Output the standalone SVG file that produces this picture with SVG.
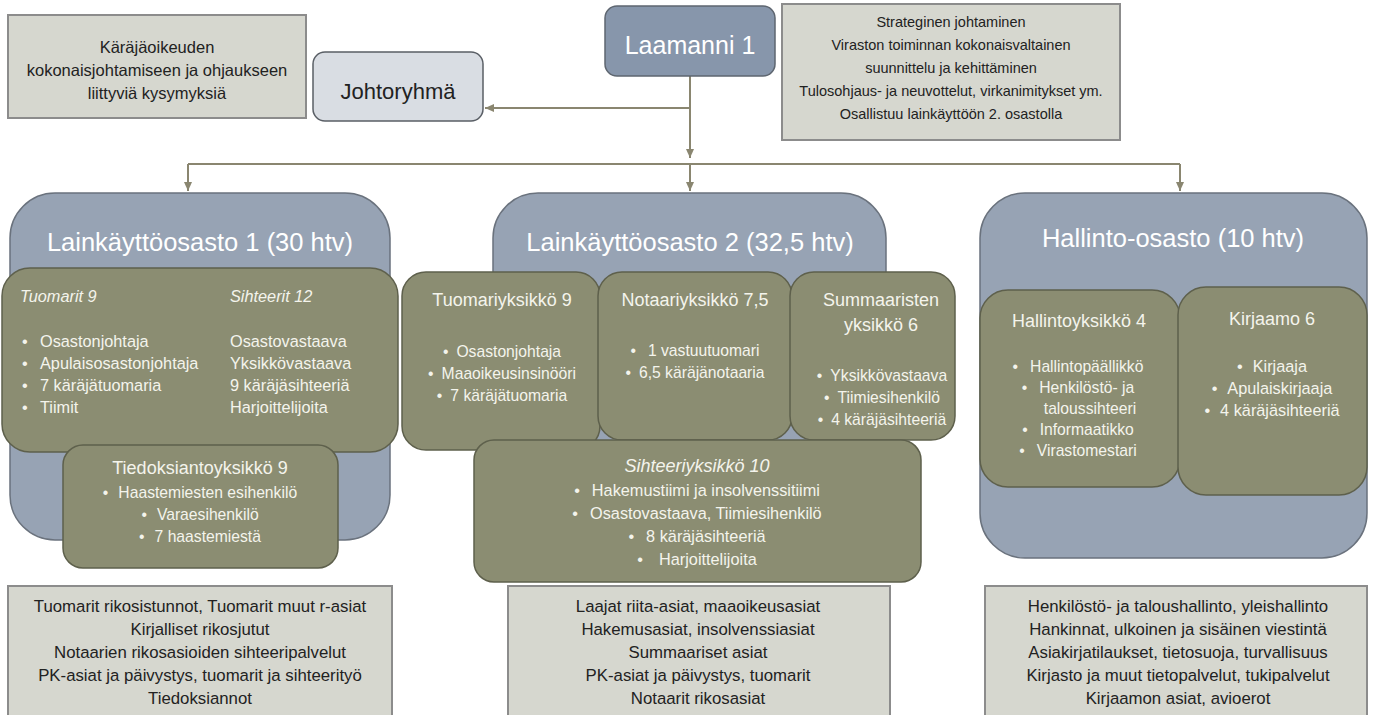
<svg xmlns="http://www.w3.org/2000/svg" width="1377" height="715" viewBox="0 0 1377 715">
<defs>
<marker id="arr" markerWidth="10" markerHeight="10" refX="9" refY="5" orient="auto" markerUnits="userSpaceOnUse">
<path d="M0,1 L9,5 L0,9 Z" fill="#8a8670"/>
</marker>
<style>
text{font-family:"Liberation Sans",Arial,sans-serif}
.note{fill:#d6d7cf;stroke:#8c8c8c;stroke-width:2}
.nt{font-size:16.8px;fill:#222;text-anchor:middle}
.nt2{font-size:14.5px;fill:#222;text-anchor:middle}
.nt3{font-size:16.5px;fill:#222;text-anchor:middle}
.dept{fill:#97a3b4;stroke:#6a727d;stroke-width:1.5}
.dt{font-size:25.5px;fill:#fff;text-anchor:middle}
.unit{fill:#8b8d72;stroke:#5e604c;stroke-width:1.5}
.ut{font-size:16.3px;fill:#f4f4ec}
.tt{font-size:18px;fill:#f4f4ec;text-anchor:middle}
.b{font-size:15.7px;fill:#f4f4ec;text-anchor:middle}
.c{text-anchor:middle}
.it{font-style:italic}
.con{fill:none;stroke:#8a8670;stroke-width:2}
</style>
</defs>
<rect width="1377" height="715" fill="#fff"/>

<g id="connectors">
<path class="con" d="M690,76 V158" marker-end="url(#arr)"/>
<path class="con" d="M690,108 H485" marker-end="url(#arr)"/>
<path class="con" d="M188,164 H1180"/>
<path class="con" d="M188,164 V191" marker-end="url(#arr)"/>
<path class="con" d="M690,164 V191" marker-end="url(#arr)"/>
<path class="con" d="M1180,164 V191" marker-end="url(#arr)"/>
</g>

<g id="note-left">
<rect class="note" x="8" y="15" width="298" height="103"/>
<text class="nt3" x="157" y="53">Käräjäoikeuden</text>
<text class="nt3" x="157" y="76">kokonaisjohtamiseen ja ohjaukseen</text>
<text class="nt3" x="157" y="99">liittyviä kysymyksiä</text>
</g>

<g id="johtoryhma">
<rect x="313" y="52" width="170" height="69" rx="12" fill="#d9dde3" stroke="#5a5f66" stroke-width="1.5"/>
<text x="398" y="99" font-size="22" fill="#222" text-anchor="middle">Johtoryhmä</text>
</g>

<g id="laamanni">
<rect x="605" y="6" width="170" height="70" rx="12" fill="#8796ab" stroke="#5e6670" stroke-width="1.5"/>
<text x="690" y="54" font-size="25" fill="#fff" text-anchor="middle">Laamanni 1</text>
</g>

<g id="note-right">
<rect class="note" x="782" y="4" width="338" height="136"/>
<text class="nt2" x="951" y="27">Strateginen johtaminen</text>
<text class="nt2" x="951" y="50">Viraston toiminnan kokonaisvaltainen</text>
<text class="nt2" x="951" y="73">suunnittelu ja kehittäminen</text>
<text class="nt2" x="951" y="96">Tulosohjaus- ja neuvottelut, virkanimitykset ym.</text>
<text class="nt2" x="951" y="119">Osallistuu lainkäyttöön 2. osastolla</text>
</g>

<g id="dept1">
<rect class="dept" x="10" y="193" width="380" height="347" rx="45"/>
<text class="dt" x="200" y="251">Lainkäyttöosasto 1 (30 htv)</text>
</g>
<g id="dept1-main">
<rect class="unit" x="2" y="268" width="396" height="184" rx="28"/>
<text class="ut it" x="20" y="302">Tuomarit 9</text>
<text class="ut it" x="230" y="302">Sihteerit 12</text>
<text class="ut" x="22" y="347">•</text><text class="ut" x="40" y="347">Osastonjohtaja</text>
<text class="ut" x="22" y="369">•</text><text class="ut" x="40" y="369">Apulaisosastonjohtaja</text>
<text class="ut" x="22" y="391">•</text><text class="ut" x="40" y="391">7 käräjätuomaria</text>
<text class="ut" x="22" y="413">•</text><text class="ut" x="40" y="413">Tiimit</text>
<text class="ut" x="230" y="347">Osastovastaava</text>
<text class="ut" x="230" y="369">Yksikkövastaava</text>
<text class="ut" x="230" y="391">9 käräjäsihteeriä</text>
<text class="ut" x="230" y="413">Harjoittelijoita</text>
</g>
<g id="tiedoksianto">
<rect class="unit" x="63" y="445" width="275" height="123" rx="20"/>
<text class="tt" x="200" y="474">Tiedoksiantoyksikkö 9</text>
<text class="b" x="200" y="498">•<tspan dx="10">Haastemiesten esihenkilö</tspan></text>
<text class="b" x="200" y="520">•<tspan dx="10">Varaesihenkilö</tspan></text>
<text class="b" x="200" y="542">•<tspan dx="10">7 haastemiestä</tspan></text>
</g>

<g id="dept2">
<rect class="dept" x="493" y="193" width="393" height="290" rx="45"/>
<text class="dt" x="690" y="251">Lainkäyttöosasto 2 (32,5 htv)</text>
</g>
<g id="tuomariyksikko">
<rect class="unit" x="402" y="272" width="198" height="178" rx="24"/>
<text class="tt" x="502" y="306">Tuomariyksikkö 9</text>
<text class="b" x="502" y="357">•<tspan dx="8">Osastonjohtaja</tspan></text>
<text class="b" x="502" y="379">•<tspan dx="8">Maaoikeusinsinööri</tspan></text>
<text class="b" x="502" y="401">•<tspan dx="8">7 käräjätuomaria</tspan></text>
</g>
<g id="notaariyksikko">
<rect class="unit" x="598" y="272" width="194" height="168" rx="24"/>
<text class="tt" x="695" y="306">Notaariyksikkö 7,5</text>
<text class="b" x="695" y="356">•<tspan dx="12">1 vastuutuomari</tspan></text>
<text class="b" x="695" y="378">•<tspan dx="8">6,5 käräjänotaaria</tspan></text>
</g>
<g id="summaaristen">
<rect class="unit" x="790" y="272" width="165" height="168" rx="24"/>
<text class="tt" x="881" y="306">Summaaristen</text>
<text class="tt" x="881" y="331">yksikkö 6</text>
<text class="b" x="882" y="381">•<tspan dx="8">Yksikkövastaava</tspan></text>
<text class="b" x="882" y="403">•<tspan dx="8">Tiimiesihenkilö</tspan></text>
<text class="b" x="882" y="425">•<tspan dx="8">4 käräjäsihteeriä</tspan></text>
</g>
<g id="sihteeriyksikko">
<rect class="unit" x="474" y="440" width="447" height="142" rx="20"/>
<text class="tt it" x="697" y="472">Sihteeriyksikkö 10</text>
<text class="ut c" x="697" y="496">•<tspan dx="12">Hakemustiimi ja insolvenssitiimi</tspan></text>
<text class="ut c" x="697" y="519">•<tspan dx="12">Osastovastaava, Tiimiesihenkilö</tspan></text>
<text class="ut c" x="697" y="542">•<tspan dx="12">8 käräjäsihteeriä</tspan></text>
<text class="ut c" x="697" y="565">•<tspan dx="16">Harjoittelijoita</tspan></text>
</g>

<g id="dept3">
<rect class="dept" x="980" y="193" width="387" height="365" rx="45"/>
<text class="dt" x="1173" y="247">Hallinto-osasto (10 htv)</text>
</g>
<g id="hallintoyksikko">
<rect class="unit" x="980" y="290" width="200" height="197" rx="28"/>
<text class="tt" x="1079" y="327">Hallintoyksikkö 4</text>
<text class="b" x="1078" y="372">•<tspan dx="12">Hallintopäällikkö</tspan></text>
<text class="b" x="1078" y="393">•<tspan dx="12">Henkilöstö- ja</tspan></text>
<text class="b" x="1090" y="414">taloussihteeri</text>
<text class="b" x="1078" y="435">•<tspan dx="12">Informaatikko</tspan></text>
<text class="b" x="1078" y="456">•<tspan dx="12">Virastomestari</tspan></text>
</g>
<g id="kirjaamo">
<rect class="unit" x="1178" y="287" width="189" height="208" rx="28"/>
<text class="tt" x="1272" y="325">Kirjaamo 6</text>
<text class="ut c" x="1272" y="372">•<tspan dx="10">Kirjaaja</tspan></text>
<text class="ut c" x="1272" y="394">•<tspan dx="10">Apulaiskirjaaja</tspan></text>
<text class="ut c" x="1272" y="416">•<tspan dx="10">4 käräjäsihteeriä</tspan></text>
</g>

<g id="note-bottom-left">
<rect class="note" x="8" y="586" width="384" height="140"/>
<text class="nt" x="200" y="612">Tuomarit rikosistunnot, Tuomarit muut r-asiat</text>
<text class="nt" x="200" y="635">Kirjalliset rikosjutut</text>
<text class="nt" x="200" y="658">Notaarien rikosasioiden sihteeripalvelut</text>
<text class="nt" x="200" y="681">PK-asiat ja päivystys, tuomarit ja sihteerityö</text>
<text class="nt" x="200" y="704">Tiedoksiannot</text>
</g>
<g id="note-bottom-middle">
<rect class="note" x="508" y="586" width="382" height="140"/>
<text class="nt" x="698" y="612">Laajat riita-asiat, maaoikeusasiat</text>
<text class="nt" x="698" y="635">Hakemusasiat, insolvenssiasiat</text>
<text class="nt" x="698" y="658">Summaariset asiat</text>
<text class="nt" x="698" y="681">PK-asiat ja päivystys, tuomarit</text>
<text class="nt" x="698" y="704">Notaarit rikosasiat</text>
</g>
<g id="note-bottom-right">
<rect class="note" x="985" y="586" width="382" height="140"/>
<text class="nt" x="1178" y="612">Henkilöstö- ja taloushallinto, yleishallinto</text>
<text class="nt" x="1178" y="635">Hankinnat, ulkoinen ja sisäinen viestintä</text>
<text class="nt" x="1178" y="658">Asiakirjatilaukset, tietosuoja, turvallisuus</text>
<text class="nt" x="1178" y="681">Kirjasto ja muut tietopalvelut, tukipalvelut</text>
<text class="nt" x="1178" y="704">Kirjaamon asiat, avioerot</text>
</g>
</svg>
